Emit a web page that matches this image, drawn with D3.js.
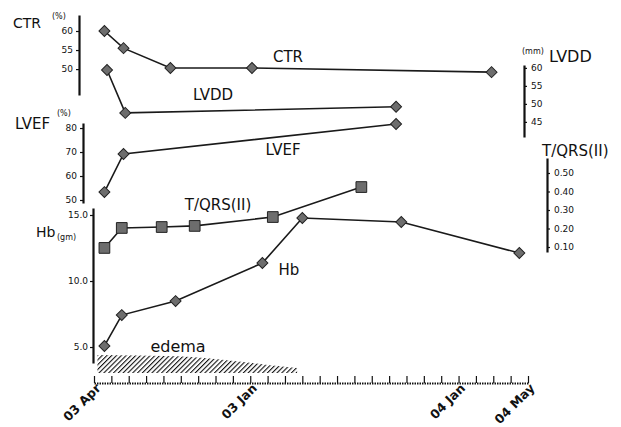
<!DOCTYPE html>
<html lang="en">
<head>
<meta charset="UTF-8">
<title>Clinical course</title>
<script src="https://d3js.org/d3.v7.min.js"></script>
<style>
  body { margin: 0; background: #fff; }
  text { font-family: "DejaVu Sans", sans-serif; fill: #111; }
  .axis path, .axis line { stroke: #111; }
</style>
</head>
<body>
<svg id="chart" width="621" height="427"></svg>
<script>
  // x is in months counted from the first tick
  const tickMonths = d3.range(0, 26);
  const labelMonths = [0, 9, 21, 25];
  const labelText = ['03 Apr', '03 Jan', '04 Jan', '04 May'];

  const ctrMonths = [0.6, 1.7, 4.4, 9.1, 22.9];
  const ctrValues = [60, 55.5, 50.3, 50.3, 49.2];

  const lvddMonths = [0.75, 1.8, 17.4];
  const lvddValues = [59.4, 47.5, 49.2];

  const lvefMonths = [0.6, 1.7, 17.4];
  const lvefValues = [53.3, 69.2, 81.7];

  const tqrsMonths = [0.6, 1.6, 3.9, 5.8, 10.3, 15.4];
  const tqrsValues = [0.095, 0.203, 0.208, 0.214, 0.262, 0.424];

  const hbMonths = [0.6, 1.6, 4.7, 9.7, 12.0, 17.7, 24.5];
  const hbValues = [5.08, 7.42, 8.48, 11.36, 14.77, 14.47, 12.12];

  // edema severity, 1 = worst
  const edemaMonths = [0.2, 4.8, 7.9, 10.0, 11.7];
  const edemaLevels = [1, 0.93, 0.68, 0.45, 0.28];

  const svg = d3.select('#chart');

  const x = d3.scaleLinear().domain([0, 25]).range([94, 528]);

  const yCtr = d3.scaleLinear().domain([43.2, 64.2]).range([95, 15]);
  const yLvdd = d3.scaleLinear().domain([40.8, 60.8]).range([137, 65]);
  const yLvef = d3.scaleLinear().domain([48.75, 82.1]).range([203, 123]);
  const yHb = d3.scaleLinear().domain([3.79, 15.53]).range([363, 208]);
  const yTqrs = d3.scaleLinear().domain([0.073, 0.581]).range([252, 158]);
  const yEdema = d3.scaleLinear().domain([0, 1]).range([373, 355]);

  // hatch for edema
  const defs = svg.append('defs');
  defs.append('pattern')
    .attr('id', 'hatch')
    .attr('patternUnits', 'userSpaceOnUse')
    .attr('width', 3.4).attr('height', 3.4)
    .attr('patternTransform', 'rotate(45)')
    .append('line')
    .attr('x1', 0).attr('y1', 0).attr('x2', 0).attr('y2', 3.4)
    .attr('stroke', '#111').attr('stroke-width', 2.2);

  const edema = edemaMonths.map((m, i) => [m, edemaLevels[i]]);
  svg.append('path')
    .datum(edema)
    .attr('fill', 'url(#hatch)')
    .attr('d', d3.area().x(d => x(d[0])).y0(yEdema(0)).y1(d => yEdema(d[1])).curve(d3.curveMonotoneX));

  // axes
  function styleAxis(g) {
    g.attr('class', 'axis');
    g.select('.domain').attr('stroke-width', 2.2);
    g.selectAll('.tick line').attr('stroke-width', 1.2);
    g.selectAll('.tick text').attr('font-size', 9).attr('fill', '#333');
  }

  svg.append('g').attr('transform', 'translate(79,0)')
    .call(d3.axisLeft(yCtr).tickValues([50, 55, 60]).tickSize(3).tickSizeOuter(0).tickPadding(3))
    .call(styleAxis);

  svg.append('g').attr('transform', 'translate(83,0)')
    .call(d3.axisLeft(yLvef).tickValues([50, 60, 70, 80]).tickSize(3).tickSizeOuter(0).tickPadding(3))
    .call(styleAxis);

  svg.append('g').attr('transform', 'translate(93,0)')
    .call(d3.axisLeft(yHb).tickValues([5, 10, 15]).tickFormat(d3.format('.1f')).tickSize(3).tickSizeOuter(0).tickPadding(2))
    .call(styleAxis);

  svg.append('g').attr('transform', 'translate(524,0)')
    .call(d3.axisRight(yLvdd).tickValues([45, 50, 55, 60]).tickSize(3).tickSizeOuter(0).tickPadding(4))
    .call(styleAxis);

  svg.append('g').attr('transform', 'translate(547,0)')
    .call(d3.axisRight(yTqrs).tickValues([0.1, 0.2, 0.3, 0.4, 0.5]).tickFormat(d3.format('.2f')).tickSize(3).tickSizeOuter(0).tickPadding(4))
    .call(styleAxis);

  const xAxis = svg.append('g').attr('transform', 'translate(0,383)')
    .call(d3.axisBottom(x).tickValues(tickMonths).tickSizeInner(-7).tickSizeOuter(0)
      .tickFormat(m => { const i = labelMonths.indexOf(m); return i < 0 ? '' : labelText[i]; }))
    .call(styleAxis);
  xAxis.select('.domain').attr('stroke-width', 1.8).attr('stroke-dasharray', '1.5,1');
  xAxis.selectAll('.tick text')
    .attr('y', 0).attr('dy', 0)
    .attr('font-size', 12.5).attr('font-weight', 'bold')
    .attr('font-family', '"DejaVu Serif", serif').attr('fill', '#222')
    .attr('text-anchor', 'end')
    .attr('transform', 'translate(7,6) rotate(-45)');

  // series
  const line = d3.line();
  function drawSeries(months, values, y, shape, size) {
    const pts = months.map((m, i) => [x(m), y(values[i])]);
    svg.append('path')
      .attr('d', line(pts))
      .attr('fill', 'none')
      .attr('stroke', '#1a1a1a')
      .attr('stroke-width', 1.6);
    svg.append('g').selectAll('path')
      .data(pts)
      .join('path')
      .attr('d', d3.symbol(d3.symbolSquare, size))
      .attr('transform', d => `translate(${d[0]},${d[1]})` + (shape === 'diamond' ? ' rotate(45)' : ''))
      .attr('fill', '#6d6d6d')
      .attr('stroke', '#222')
      .attr('stroke-width', 1);
  }

  drawSeries(ctrMonths, ctrValues, yCtr, 'diamond', 60);
  drawSeries(lvddMonths, lvddValues, yLvdd, 'diamond', 60);
  drawSeries(lvefMonths, lvefValues, yLvef, 'diamond', 60);
  drawSeries(tqrsMonths, tqrsValues, yTqrs, 'square', 115);
  drawSeries(hbMonths, hbValues, yHb, 'diamond', 60);

  // labels
  function label(txt, lx, ly, size, opts = {}) {
    return svg.append('text')
      .attr('x', lx).attr('y', ly)
      .attr('font-size', size)
      .attr('text-anchor', opts.anchor || 'start')
      .attr('font-family', opts.family || '"DejaVu Sans", sans-serif')
      .text(txt);
  }

  label('CTR', 13, 28, 14);
  label('(%)', 52, 19, 8);
  label('LVEF', 15, 129, 15);
  label('(%)', 57, 116, 8);
  label('Hb', 36, 237, 14);
  label('(gm)', 57, 240, 8);
  label('(mm)', 522, 54, 8);
  label('LVDD', 549, 62, 16);
  label('T/QRS(II)', 542, 156, 15);

  label('CTR', 288, 62, 15, { anchor: 'middle' });
  label('LVDD', 213, 100, 15, { anchor: 'middle' });
  label('LVEF', 283, 155, 15, { anchor: 'middle' });
  label('T/QRS(II)', 218, 210, 15, { anchor: 'middle' });
  label('Hb', 289, 275, 15, { anchor: 'middle' });
  label('edema', 178, 352, 16, { anchor: 'middle', family: '"DejaVu Serif", serif' });
</script>
</body>
</html>
